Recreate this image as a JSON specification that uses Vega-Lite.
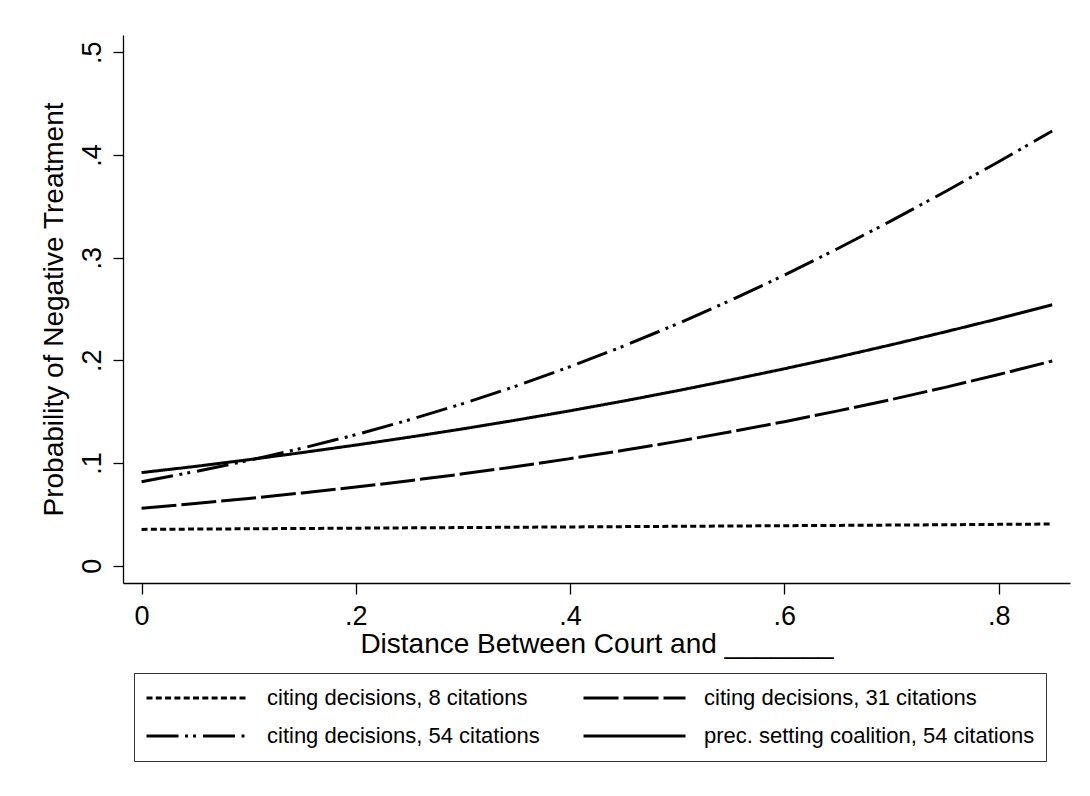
{
  "$schema": "https://vega.github.io/schema/vega-lite/v6.json",
  "width": 947,
  "height": 548,
  "autosize": {"type": "none"},
  "padding": {"left": 123, "top": 35, "right": 20, "bottom": 213},
  "background": "white",
  "config": {
    "view": {"stroke": null},
    "font": "Liberation Sans",
    "axis": {
      "grid": false,
      "domainColor": "black",
      "domainWidth": 1.3,
      "tickColor": "black",
      "tickWidth": 1.3,
      "tickSize": 11,
      "labelFont": "Liberation Sans",
      "labelFontSize": 27,
      "labelColor": "black",
      "titleFont": "Liberation Sans",
      "titleFontSize": 28,
      "titleFontWeight": "normal",
      "titleColor": "black"
    },
    "legend": {
      "labelFont": "Liberation Sans",
      "labelFontSize": 22,
      "labelColor": "black"
    }
  },
  "data": {
    "values": [
      {"x": 0.00, "p": 0.0354, "series": "citing decisions, 8 citations"},
      {"x": 0.05, "p": 0.0357, "series": "citing decisions, 8 citations"},
      {"x": 0.10, "p": 0.0360, "series": "citing decisions, 8 citations"},
      {"x": 0.15, "p": 0.0363, "series": "citing decisions, 8 citations"},
      {"x": 0.20, "p": 0.0366, "series": "citing decisions, 8 citations"},
      {"x": 0.25, "p": 0.0369, "series": "citing decisions, 8 citations"},
      {"x": 0.30, "p": 0.0372, "series": "citing decisions, 8 citations"},
      {"x": 0.35, "p": 0.0375, "series": "citing decisions, 8 citations"},
      {"x": 0.40, "p": 0.0378, "series": "citing decisions, 8 citations"},
      {"x": 0.45, "p": 0.0381, "series": "citing decisions, 8 citations"},
      {"x": 0.50, "p": 0.0384, "series": "citing decisions, 8 citations"},
      {"x": 0.55, "p": 0.0387, "series": "citing decisions, 8 citations"},
      {"x": 0.60, "p": 0.0390, "series": "citing decisions, 8 citations"},
      {"x": 0.65, "p": 0.0393, "series": "citing decisions, 8 citations"},
      {"x": 0.70, "p": 0.0396, "series": "citing decisions, 8 citations"},
      {"x": 0.75, "p": 0.0399, "series": "citing decisions, 8 citations"},
      {"x": 0.80, "p": 0.0403, "series": "citing decisions, 8 citations"},
      {"x": 0.85, "p": 0.0406, "series": "citing decisions, 8 citations"},
      {"x": 0.00, "p": 0.0559, "series": "citing decisions, 31 citations"},
      {"x": 0.05, "p": 0.0605, "series": "citing decisions, 31 citations"},
      {"x": 0.10, "p": 0.0655, "series": "citing decisions, 31 citations"},
      {"x": 0.15, "p": 0.0709, "series": "citing decisions, 31 citations"},
      {"x": 0.20, "p": 0.0766, "series": "citing decisions, 31 citations"},
      {"x": 0.25, "p": 0.0828, "series": "citing decisions, 31 citations"},
      {"x": 0.30, "p": 0.0895, "series": "citing decisions, 31 citations"},
      {"x": 0.35, "p": 0.0966, "series": "citing decisions, 31 citations"},
      {"x": 0.40, "p": 0.1043, "series": "citing decisions, 31 citations"},
      {"x": 0.45, "p": 0.1124, "series": "citing decisions, 31 citations"},
      {"x": 0.50, "p": 0.1211, "series": "citing decisions, 31 citations"},
      {"x": 0.55, "p": 0.1304, "series": "citing decisions, 31 citations"},
      {"x": 0.60, "p": 0.1403, "series": "citing decisions, 31 citations"},
      {"x": 0.65, "p": 0.1508, "series": "citing decisions, 31 citations"},
      {"x": 0.70, "p": 0.1619, "series": "citing decisions, 31 citations"},
      {"x": 0.75, "p": 0.1737, "series": "citing decisions, 31 citations"},
      {"x": 0.80, "p": 0.1862, "series": "citing decisions, 31 citations"},
      {"x": 0.85, "p": 0.1994, "series": "citing decisions, 31 citations"},
      {"x": 0.00, "p": 0.0818, "series": "citing decisions, 54 citations"},
      {"x": 0.05, "p": 0.0917, "series": "citing decisions, 54 citations"},
      {"x": 0.10, "p": 0.1025, "series": "citing decisions, 54 citations"},
      {"x": 0.15, "p": 0.1145, "series": "citing decisions, 54 citations"},
      {"x": 0.20, "p": 0.1276, "series": "citing decisions, 54 citations"},
      {"x": 0.25, "p": 0.1421, "series": "citing decisions, 54 citations"},
      {"x": 0.30, "p": 0.1579, "series": "citing decisions, 54 citations"},
      {"x": 0.35, "p": 0.1751, "series": "citing decisions, 54 citations"},
      {"x": 0.40, "p": 0.1938, "series": "citing decisions, 54 citations"},
      {"x": 0.45, "p": 0.2139, "series": "citing decisions, 54 citations"},
      {"x": 0.50, "p": 0.2355, "series": "citing decisions, 54 citations"},
      {"x": 0.55, "p": 0.2585, "series": "citing decisions, 54 citations"},
      {"x": 0.60, "p": 0.2830, "series": "citing decisions, 54 citations"},
      {"x": 0.65, "p": 0.3089, "series": "citing decisions, 54 citations"},
      {"x": 0.70, "p": 0.3360, "series": "citing decisions, 54 citations"},
      {"x": 0.75, "p": 0.3642, "series": "citing decisions, 54 citations"},
      {"x": 0.80, "p": 0.3934, "series": "citing decisions, 54 citations"},
      {"x": 0.85, "p": 0.4233, "series": "citing decisions, 54 citations"},
      {"x": 0.00, "p": 0.0907, "series": "prec. setting coalition, 54 citations"},
      {"x": 0.05, "p": 0.0967, "series": "prec. setting coalition, 54 citations"},
      {"x": 0.10, "p": 0.1033, "series": "prec. setting coalition, 54 citations"},
      {"x": 0.15, "p": 0.1102, "series": "prec. setting coalition, 54 citations"},
      {"x": 0.20, "p": 0.1175, "series": "prec. setting coalition, 54 citations"},
      {"x": 0.25, "p": 0.1252, "series": "prec. setting coalition, 54 citations"},
      {"x": 0.30, "p": 0.1333, "series": "prec. setting coalition, 54 citations"},
      {"x": 0.35, "p": 0.1419, "series": "prec. setting coalition, 54 citations"},
      {"x": 0.40, "p": 0.1509, "series": "prec. setting coalition, 54 citations"},
      {"x": 0.45, "p": 0.1604, "series": "prec. setting coalition, 54 citations"},
      {"x": 0.50, "p": 0.1704, "series": "prec. setting coalition, 54 citations"},
      {"x": 0.55, "p": 0.1809, "series": "prec. setting coalition, 54 citations"},
      {"x": 0.60, "p": 0.1918, "series": "prec. setting coalition, 54 citations"},
      {"x": 0.65, "p": 0.2032, "series": "prec. setting coalition, 54 citations"},
      {"x": 0.70, "p": 0.2152, "series": "prec. setting coalition, 54 citations"},
      {"x": 0.75, "p": 0.2277, "series": "prec. setting coalition, 54 citations"},
      {"x": 0.80, "p": 0.2406, "series": "prec. setting coalition, 54 citations"},
      {"x": 0.85, "p": 0.2541, "series": "prec. setting coalition, 54 citations"}
    ]
  },
  "mark": {"type": "line", "color": "black", "strokeWidth": 3},
  "encoding": {
    "x": {
      "field": "x",
      "type": "quantitative",
      "scale": {"domain": [-0.0173, 0.8666], "nice": false, "zero": false},
      "axis": {
        "values": [0, 0.2, 0.4, 0.6, 0.8],
        "labelExpr": "datum.value == 0 ? '0' : replace(format(datum.value, '.1f'), '0.', '.')",
        "labelPadding": 9,
        "labelFlush": false,
        "title": "Distance Between Court and _______",
        "titleBaseline": "alphabetic",
        "titleY": 69
      }
    },
    "y": {
      "field": "p",
      "type": "quantitative",
      "scale": {"domain": [-0.0168, 0.5168], "nice": false, "zero": false},
      "axis": {
        "values": [0, 0.1, 0.2, 0.3, 0.4, 0.5],
        "labelExpr": "datum.value == 0 ? '0' : replace(format(datum.value, '.1f'), '0.', '.')",
        "labelAngle": -90,
        "labelAlign": "center",
        "labelBaseline": "alphabetic",
        "labelPadding": 13,
        "tickSize": 10,
        "title": "Probability of Negative Treatment",
        "titleAngle": -90,
        "titleBaseline": "alphabetic",
        "titleAlign": "center",
        "titleX": -61,
        "titleY": 274
      }
    },
    "strokeDash": {
      "field": "series",
      "type": "nominal",
      "scale": {
        "domain": [
          "citing decisions, 8 citations",
          "citing decisions, 31 citations",
          "citing decisions, 54 citations",
          "prec. setting coalition, 54 citations"
        ],
        "range": [[6, 3.3], [35, 5], [32, 6.5, 3, 5, 3, 7], [1, 0]]
      },
      "legend": {
        "title": null,
        "orient": "none",
        "direction": "horizontal",
        "legendX": 11,
        "legendY": 638,
        "columns": 2,
        "columnPadding": 42,
        "rowPadding": 10,
        "padding": 11,
        "clipHeight": 28,
        "strokeColor": "#333333",
        "symbolType": "stroke",
        "symbolSize": 10404,
        "symbolStrokeWidth": 3,
        "symbolStrokeColor": "black",
        "labelOffset": 17,
        "labelLimit": 0
      }
    }
  }
}
